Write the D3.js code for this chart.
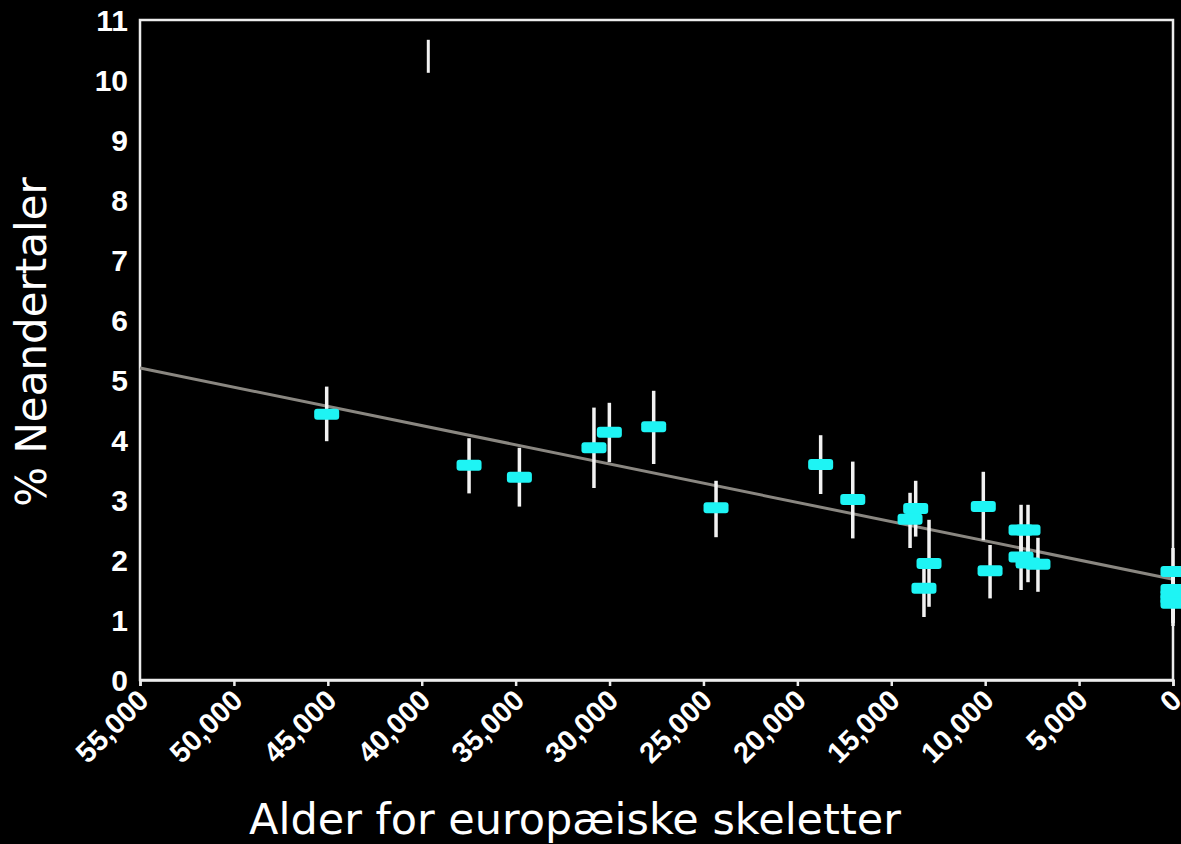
<!DOCTYPE html>
<html>
<head>
<meta charset="utf-8">
<script src="https://cdn.jsdelivr.net/npm/d3@7"></script>
<style>
  html, body { margin: 0; padding: 0; background: #000; }
  svg { display: block; }
</style>
</head>
<body>
<svg id="chart" width="1181" height="844"></svg>
<script>
// ---- data ----
const ages   = [45060, 37480, 34800, 30830, 30010, 27650, 24330, 18760, 17050,
                13700, 14000, 12990, 13260, 10100, 9740, 8090, 7720, 8090, 7720, 7190,
                0, 0, 0, 0, 0];
const pct    = [4.43, 3.58, 3.38, 3.87, 4.13, 4.22, 2.87, 3.59, 3.01,
                2.86, 2.68, 1.94, 1.53, 2.89, 1.82, 2.50, 2.50, 2.05, 1.95, 1.93,
                1.81, 1.51, 1.42, 1.35, 1.28];
const pctHi  = [4.89, 4.03, 3.87, 4.54, 4.62, 4.82, 3.32, 4.08, 3.64,
                3.32, 3.12, 2.67, 2.00, 3.47, 2.25, 2.92, 2.92, 2.50, 2.40, 2.37,
                2.20, 1.90, 1.80, 1.75, 1.70];
const pctLo  = [3.98, 3.11, 2.89, 3.20, 3.63, 3.60, 2.38, 3.10, 2.36,
                2.39, 2.20, 1.22, 1.05, 2.33, 1.36, 2.08, 2.08, 1.50, 1.63, 1.47,
                1.40, 1.10, 1.00, 0.95, 0.90];
// regression line end points
const trendAge = [55000, 0];
const trendPct = [5.20, 1.68];
// stray error bar near the top of the plot
const strayAge = [39650];
const strayHi  = [10.67];
const strayLo  = [10.12];

const xTicks = [55000, 50000, 45000, 40000, 35000, 30000, 25000, 20000, 15000, 10000, 5000, 0];
const yTicks = [0, 1, 2, 3, 4, 5, 6, 7, 8, 9, 10, 11];
const xTitle = "Alder for europæiske skeletter";
const yTitle = "% Neandertaler";

// ---- drawing ----
const W = 1181, H = 844;
const m = { left: 140, top: 20, right: 8, bottom: 164 };
const svg = d3.select("#chart");
svg.append("rect").attr("width", W).attr("height", H).attr("fill", "#000");

const x = d3.scaleLinear().domain([55000, 0]).range([m.left, W - m.right]);
const y = d3.scaleLinear().domain([0, 11]).range([H - m.bottom, m.top]);

const fmt = d3.format(",");

// frame
svg.append("rect")
  .attr("x", x(55000)).attr("y", y(11))
  .attr("width", x(0) - x(55000)).attr("height", y(0) - y(11))
  .attr("fill", "none").attr("stroke", "#ececec").attr("stroke-width", 2.5);

// x axis
const xAxis = d3.axisBottom(x).tickValues(xTicks).tickFormat(fmt).tickSize(6).tickPadding(4);
const gx = svg.append("g").attr("transform", `translate(0,${y(0)})`).call(xAxis);
gx.select(".domain").attr("stroke", "#ececec").attr("stroke-width", 2.5);
gx.selectAll(".tick line").attr("stroke", "#ececec").attr("stroke-width", 2.5);
gx.selectAll(".tick text")
  .attr("fill", "#fff")
  .attr("font-family", "Liberation Sans, Arial, sans-serif")
  .attr("font-weight", "bold")
  .attr("font-size", 29)
  .attr("text-anchor", "end")
  .attr("dy", null)
  .attr("y", null)
  .attr("transform", "translate(10,22) rotate(-45)");

// y axis
const yAxis = d3.axisLeft(y).tickValues(yTicks).tickFormat(d3.format("d")).tickSize(0).tickPadding(12);
const gy = svg.append("g").attr("transform", `translate(${x(55000)},0)`).call(yAxis);
gy.select(".domain").remove();
gy.selectAll(".tick text")
  .attr("fill", "#fff")
  .attr("font-family", "Liberation Sans, Arial, sans-serif")
  .attr("font-weight", "bold")
  .attr("font-size", 30)
  .attr("dy", "0.36em");

// regression line
const line = d3.line().x(d => x(d[0])).y(d => y(d[1]));
svg.append("path")
  .datum(trendAge.map((a, i) => [a, trendPct[i]]))
  .attr("d", line)
  .attr("fill", "none").attr("stroke", "#8a8781").attr("stroke-width", 3);

// stray bar
svg.append("g").selectAll("line").data(strayAge).join("line")
  .attr("x1", d => x(d)).attr("x2", d => x(d))
  .attr("y1", (d, i) => y(strayHi[i])).attr("y2", (d, i) => y(strayLo[i]))
  .attr("stroke", "#f2f2f2").attr("stroke-width", 3);

const pts = ages.map((a, i) => ({ a, p: pct[i], hi: pctHi[i], lo: pctLo[i] }));

// error bars
svg.append("g").selectAll("line").data(pts).join("line")
  .attr("x1", d => x(d.a)).attr("x2", d => x(d.a))
  .attr("y1", d => y(d.hi)).attr("y2", d => y(d.lo))
  .attr("stroke", "#f2f2f2").attr("stroke-width", 3.5);

// cyan markers
const bw = 25, bh = 11;
svg.append("g").selectAll("rect").data(pts).join("rect")
  .attr("x", d => x(d.a) - bw / 2).attr("y", d => y(d.p) - bh / 2)
  .attr("width", bw).attr("height", bh).attr("rx", 3)
  .attr("fill", "#1ef4f4");

// axis titles
svg.append("text")
  .attr("x", 575).attr("y", 834)
  .attr("text-anchor", "middle")
  .attr("font-family", "DejaVu Sans, sans-serif")
  .attr("font-size", 43)
  .attr("fill", "#fff")
  .text(xTitle);

svg.append("text")
  .attr("transform", `translate(46,${342}) rotate(-90)`)
  .attr("text-anchor", "middle")
  .attr("font-family", "DejaVu Sans, sans-serif")
  .attr("font-size", 42)
  .attr("fill", "#fff")
  .text(yTitle);
</script>
</body>
</html>
